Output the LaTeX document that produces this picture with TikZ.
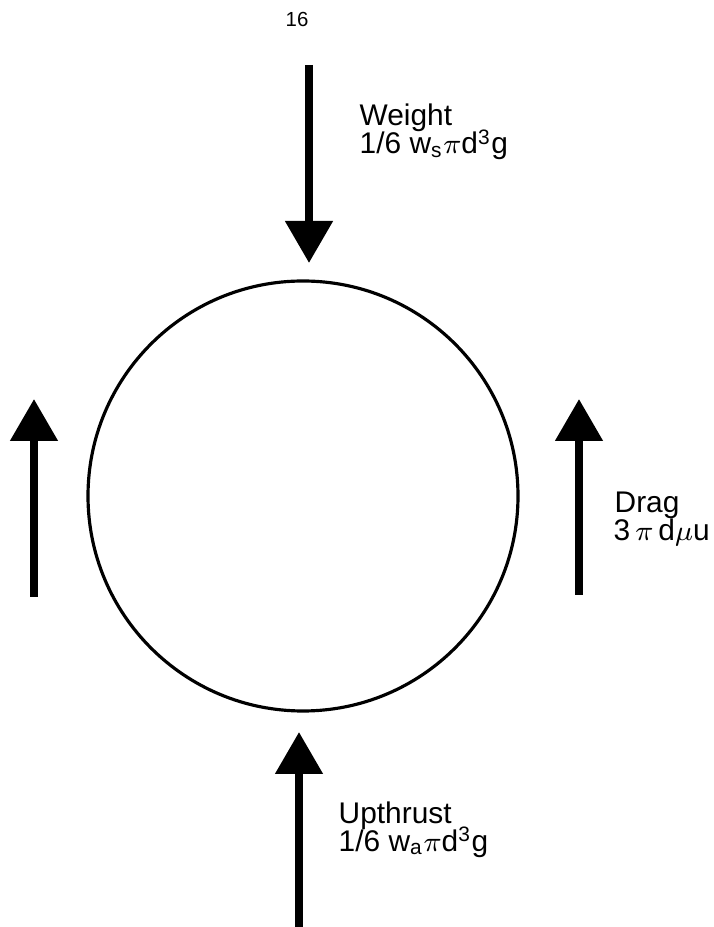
\documentclass[tikz,border=0pt]{standalone}
\usepackage{fontspec}
\setmainfont{Liberation Sans}
\usetikzlibrary{arrows.meta}

\tikzset{
  fuerza/.style={line width=2.3pt, ->},
  etiqueta/.style={anchor=base west, inner sep=0pt, font=\fontsize{8.5}{10}\selectfont},
}

\begin{document}
\begin{tikzpicture}[>={Triangle[width=0.46cm,length=0.42cm]}]
    \useasboundingbox (0,0) rectangle (7.13,9.27);

    % Numero de pagina
    \node[inner sep=0pt, font=\fontsize{5.8}{7}\selectfont] (pagina) at (2.97,9.07) {16};

    % Esfera
    \node[draw, circle, line width=0.9pt, minimum size=4.3cm, inner sep=0pt] (esfera) at (3.03,4.31) {};

    % Extremos de las flechas
    \coordinate (pesoA) at (3.09,8.62);
    \coordinate (pesoB) at (3.09,6.64);
    \coordinate (izqA) at (0.34,3.30);
    \coordinate (izqB) at (0.34,5.28);
    \coordinate (arrA) at (5.79,3.32);
    \coordinate (arrB) at (5.79,5.28);
    \coordinate (empA) at (2.99,0.00);
    \coordinate (empB) at (2.99,1.95);

    % Fuerzas
    \draw[fuerza] (pesoA) -- (pesoB);
    \draw[fuerza] (izqA) -- (izqB);
    \draw[fuerza] (arrA) -- (arrB);
    \draw[fuerza] (empA) -- (empB);

    % Etiquetas
    \node[etiqueta] (peso) at (3.59,8.01) {Weight};
    \node[etiqueta] (pesoF) at (3.59,7.73) {1/6 w\textsubscript{s}$\pi$d\textsuperscript{3}g};
    \node[etiqueta] (arrastre) at (6.14,4.14) {Drag};
    \node[etiqueta] (arrastreF) at (6.13,3.86) {3\,$\pi$\,d$\mu$u};
    \node[etiqueta] (empuje) at (3.38,1.04) {Upthrust};
    \node[etiqueta] (empujeF) at (3.38,0.76) {1/6 w\textsubscript{a}$\pi$d\textsuperscript{3}g};

\end{tikzpicture}
\end{document}
